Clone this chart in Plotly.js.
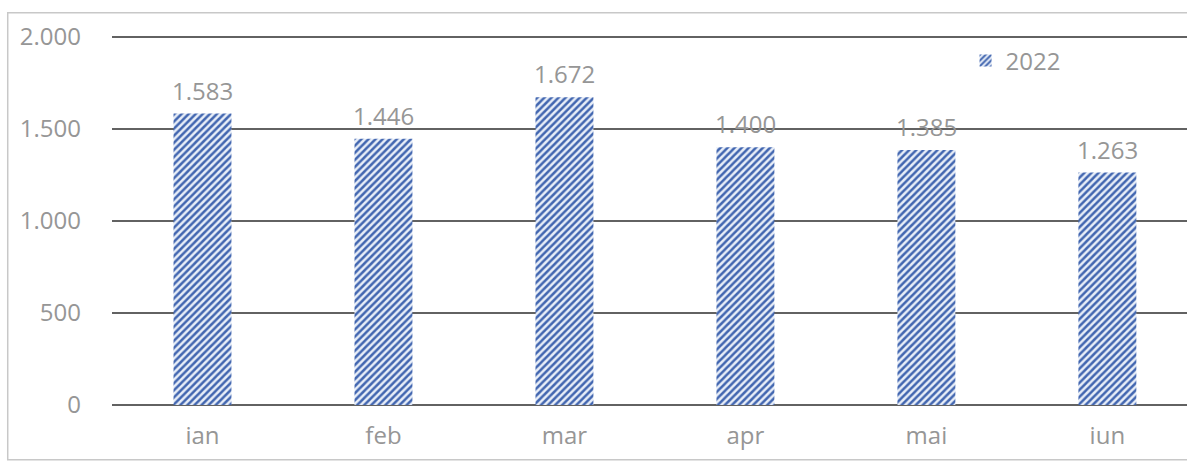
<!DOCTYPE html>
<html>
<head>
<meta charset="utf-8">
<script src="https://cdn.plot.ly/plotly-3.0.1.min.js"></script>
<style>html,body{margin:0;padding:0;background:#fff;}#chart{width:1187px;height:461px;}</style>
</head>
<body>
<div id="chart"></div>
<script>
const months = ["ian", "feb", "mar", "apr", "mai", "iun"];
const values2022 = [1583, 1446, 1672, 1400, 1385, 1263];
const valueLabels = ["1.583", "1.446", "1.672", "1.400", "1.385", "1.263"];
const yTickVals = [0, 500, 1000, 1500, 2000];
const yTickText = ["0", "500", "1.000", "1.500", "2.000"];
const seriesName = "2022";

const textFont = {family: "Open Sans, sans-serif", size: 24, color: "#969696"};

const trace = {
  type: "bar",
  x: months,
  y: values2022,
  name: seriesName,
  marker: {
    color: "#ffffff",
    line: {width: 0},
    pattern: {shape: "/", fgcolor: "#4266b0", bgcolor: "#e8eef8", size: 5, solidity: 0.5}
  },
  hoverinfo: "none"
};

const labelAnnotations = months.map((m, i) => ({
  x: m, y: values2022[i], xref: "x", yref: "y",
  text: valueLabels[i], showarrow: false,
  xanchor: "center", yanchor: "bottom", yshift: 5,
  font: textFont
}));

const layout = {
  width: 1187,
  height: 461,
  margin: {l: 112, r: 0, t: 35, b: 56},
  paper_bgcolor: "#ffffff",
  plot_bgcolor: "#ffffff",
  bargap: 0.68,
  showlegend: true,
  legend: {
    x: 0.794, y: 0.93, xanchor: "left", yanchor: "middle",
    font: textFont,
    bgcolor: "rgba(0,0,0,0)"
  },
  xaxis: {
    type: "category",
    range: [-0.5, 5.44],
    showgrid: false,
    zeroline: false,
    showline: false,
    ticks: "",
    tickfont: textFont,
    ticklabelstandoff: 14
  },
  yaxis: {
    range: [0, 2010],
    tickvals: yTickVals,
    ticktext: yTickText,
    showgrid: true,
    gridcolor: "#626262",
    gridwidth: 1.5,
    zeroline: true,
    zerolinecolor: "#626262",
    zerolinewidth: 1.5,
    showline: false,
    ticks: "",
    tickfont: textFont,
    ticklabelstandoff: 30
  },
  annotations: labelAnnotations,
  shapes: [{
    type: "rect", xref: "paper", yref: "paper",
    x0: -0.097, x1: 1.1, y0: -0.148, y1: 1.06,
    line: {color: "#c8c8c8", width: 1.5},
    fillcolor: "rgba(0,0,0,0)",
    layer: "below"
  }]
};

Plotly.newPlot("chart", [trace], layout, {displayModeBar: false, staticPlot: true});
</script>
</body>
</html>
